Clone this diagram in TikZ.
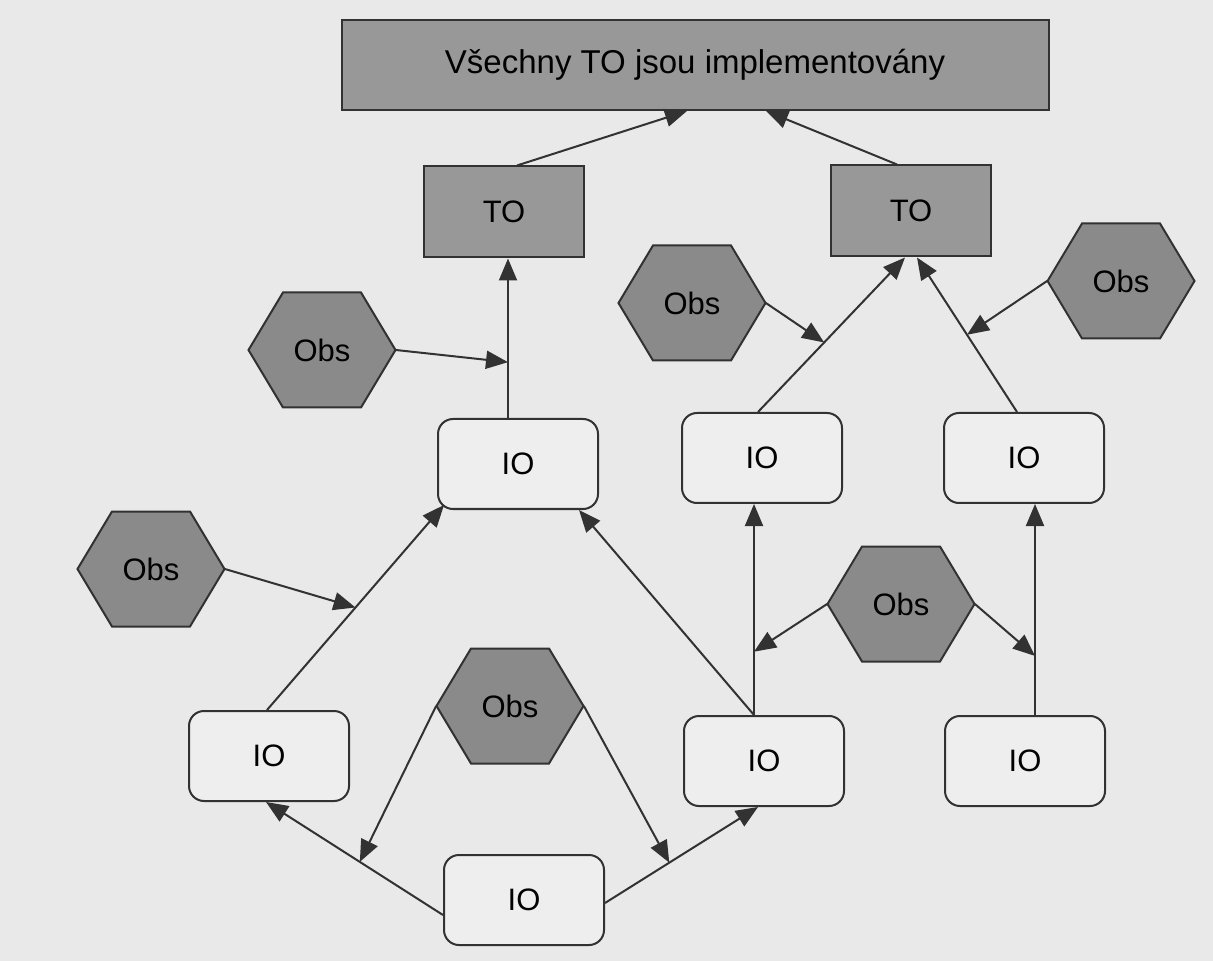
\documentclass[tikz,border=0pt]{standalone}
\usepackage{fontspec}
\setmainfont{Liberation Sans}
\usetikzlibrary{arrows.meta,calc}
\definecolor{bggray}{RGB}{233,233,233}
\definecolor{togray}{RGB}{152,152,152}
\definecolor{obsgray}{RGB}{138,138,138}
\definecolor{linegray}{RGB}{50,50,50}
\definecolor{iofill}{RGB}{238,238,238}
\begin{document}
\begin{tikzpicture}[x=0.5pt, y=-0.5pt, font=\fontsize{15.5}{18}\selectfont,
	tobox/.style={draw=linegray, fill=togray, line width=1pt, minimum width=80pt, minimum height=45.5pt, inner sep=0pt},
	iobox/.style={draw=linegray, fill=iofill, line width=1pt, rounded corners=7.5pt, minimum width=80pt, minimum height=45pt, inner sep=0pt},
	obsnode/.style={minimum width=73.5pt, minimum height=57.5pt, inner sep=0pt},
	hexline/.style={draw=linegray, fill=obsgray, line width=1pt},
	arr/.style={draw=linegray, line width=1pt, -{Triangle[length=11pt,width=9pt]}}]
	%page
	\useasboundingbox (0,0) rectangle (1213,961);
	\fill[bggray] (0,0) rectangle (1213,961);
	%goal
	\node[tobox, minimum width=353.5pt, minimum height=45pt, font=\fontsize{16.5}{20}\selectfont] (all) at (695,65) {Všechny TO jsou implementovány};
	%TO
	\node[tobox] (to1) at (504,212) {TO};
	\node[tobox] (to2) at (911,211) {TO};
	%IO
	\node[iobox] (io1) at (518,464) {IO};
	\node[iobox] (io2) at (762,458) {IO};
	\node[iobox] (io3) at (1024,458) {IO};
	\node[iobox] (io4) at (269,756) {IO};
	\node[iobox] (io5) at (764,761) {IO};
	\node[iobox] (io6) at (1025,761) {IO};
	\node[iobox] (io7) at (524,900) {IO};
	%Obs
	\foreach \n/\x/\y in {obsA/322/350, obsB/692/303, obsC/1121/281, obsD/151/569, obsE/510/706, obsF/901/604}
	{
		\draw[hexline] (\x,\y) ++(-73.5,0) -- ++(34.5,-57.5) -- ++(78,0) -- ++(34.5,57.5)
			-- ++(-34.5,57.5) -- ++(-78,0) -- cycle;
		\node[obsnode] (\n) at (\x,\y) {Obs};
	}
	%edges
	\draw[arr] ($(to1.north)+(13,0)$) -- ($(all.south)+(-8,0)$);
	\draw[arr] ($(to2.north)+(-14,0)$) -- ($(all.south)+(71,0)$);
	\draw[arr] ($(io1.north)+(-10,0)$) -- coordinate[pos=.35] (to1 in) ($(to1.south)+(4,0)$);
	\draw[arr] ($(io2.north)+(-4,0)$) -- coordinate[pos=.45] (to2 left in) ($(to2.south)+(-6,0)$);
	\draw[arr] ($(io3.north)+(-7,0)$) -- coordinate[pos=.5] (to2 right in) ($(to2.south)+(6,0)$);
	\draw[arr] ($(io4.north)+(-2,0)$) -- coordinate[pos=.5] (io1 left in) ($(io1.south west)+(7,-5)$);
	\draw[arr] ($(io5.north)+(-10,0)$) -- ($(io1.south east)+(-20,0)$);
	\draw[arr] ($(io5.north)+(-10,0)$) -- coordinate[pos=.3] (io2 in) ($(io2.south)+(-8,0)$);
	\draw[arr] ($(io6.north)+(10,0)$) -- coordinate[pos=.28] (io3 in) ($(io3.south)+(11,0)$);
	\draw[arr] ($(io7.west)+(0,15)$) -- coordinate[pos=.47] (io4 in) ($(io4.south)+(-3,0)$);
	\draw[arr] ($(io7.east)+(0,3)$) -- coordinate[pos=.42] (io5 in) ($(io5.south)+(-6,0)$);
	%observations
	\draw[arr] (obsA.east) -- (to1 in);
	\draw[arr] (obsB.east) -- (to2 left in);
	\draw[arr] (obsC.west) -- (to2 right in);
	\draw[arr] (obsD.east) -- (io1 left in);
	\draw[arr] (obsF.west) -- (io2 in);
	\draw[arr] (obsF.east) -- (io3 in);
	\draw[arr] (obsE.west) -- (io4 in);
	\draw[arr] (obsE.east) -- (io5 in);
\end{tikzpicture}
\end{document}
